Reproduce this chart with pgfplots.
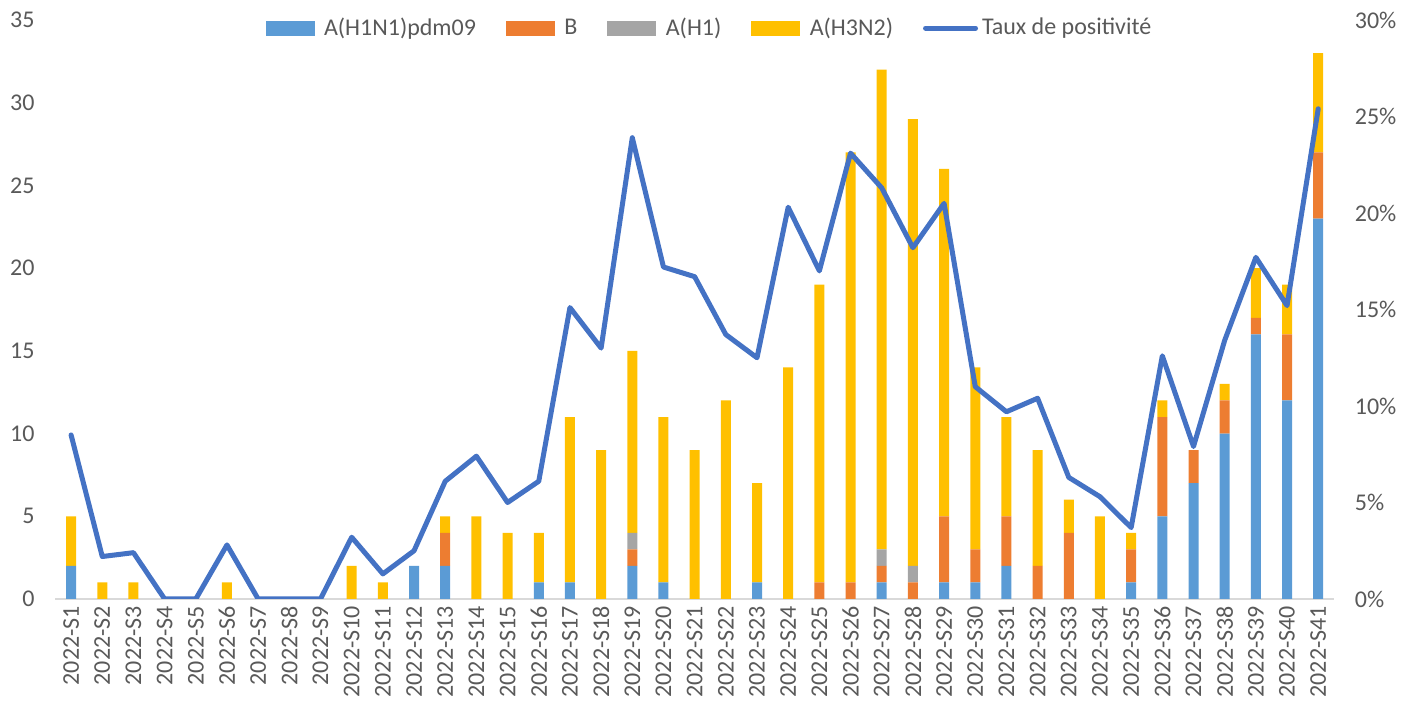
\documentclass[border=0pt]{standalone}
\usepackage{fontspec}
\setmainfont{Carlito}
\usepackage{pgfplots}
\usepackage{pgfplotstable}
\pgfplotsset{compat=1.18}

\definecolor{cH1N1}{HTML}{5B9BD5}
\definecolor{cB}{HTML}{ED7D31}
\definecolor{cH1}{HTML}{A5A5A5}
\definecolor{cH3N2}{HTML}{FFC000}
\definecolor{cLine}{HTML}{4472C4}
\definecolor{cTick}{HTML}{595959}
\definecolor{cBase}{HTML}{D9D9D9}

\newcommand{\tfont}{\fontsize{12}{14}\selectfont}

% semaine, A(H1N1)pdm09, B, A(H1), A(H3N2), taux de positivite (%)
\pgfplotstableread{
w  h1n1 b h1 h3n2 taux
1  2  0 0 3  8.5
2  0  0 0 1  2.2
3  0  0 0 1  2.4
4  0  0 0 0  0
5  0  0 0 0  0
6  0  0 0 1  2.8
7  0  0 0 0  0
8  0  0 0 0  0
9  0  0 0 0  0
10 0  0 0 2  3.2
11 0  0 0 1  1.3
12 2  0 0 0  2.5
13 2  2 0 1  6.1
14 0  0 0 5  7.4
15 0  0 0 4  5.0
16 1  0 0 3  6.1
17 1  0 0 10 15.1
18 0  0 0 9  13.0
19 2  1 1 11 23.9
20 1  0 0 10 17.2
21 0  0 0 9  16.7
22 0  0 0 12 13.7
23 1  0 0 6  12.5
24 0  0 0 14 20.3
25 0  1 0 18 17.0
26 0  1 0 26 23.1
27 1  1 1 29 21.3
28 0  1 1 27 18.2
29 1  4 0 21 20.5
30 1  2 0 11 11.0
31 2  3 0 6  9.7
32 0  2 0 7  10.4
33 0  4 0 2  6.3
34 0  0 0 5  5.3
35 1  2 0 1  3.7
36 5  6 0 1  12.6
37 7  2 0 0  7.9
38 10 2 0 1  13.4
39 16 1 0 3  17.7
40 12 4 0 3  15.2
41 23 4 0 6  25.4
}\fludata

\pgfplotsset{
  barleg/.style={legend image code/.code={\fill[#1] (0pt,-3.5pt) rectangle (24pt,3.5pt);
    \path[draw=none,fill=none] (0pt,0pt) -- (27pt,0pt);}},
  common/.style={scale only axis, width=639.15pt, height=289.5pt,
    xmin=0.5, xmax=41.5,
    major tick length=0pt, tick style={draw=none},
    tick label style={font=\tfont, text=cTick},
    /pgf/number format/assume math mode=true},
}

\begin{document}
\begin{tikzpicture}
\path[use as bounding box] (-27.75pt,-52.5pt) rectangle (679.25pt,299.5pt);
\begin{axis}[common,
  ymin=0, ymax=35, ytick={0,5,...,35},
  ybar stacked, bar width=5pt,
  xtick={1,...,41},
  xticklabels={2022-S1,2022-S2,2022-S3,2022-S4,2022-S5,2022-S6,2022-S7,2022-S8,2022-S9,2022-S10,
    2022-S11,2022-S12,2022-S13,2022-S14,2022-S15,2022-S16,2022-S17,2022-S18,2022-S19,2022-S20,
    2022-S21,2022-S22,2022-S23,2022-S24,2022-S25,2022-S26,2022-S27,2022-S28,2022-S29,2022-S30,
    2022-S31,2022-S32,2022-S33,2022-S34,2022-S35,2022-S36,2022-S37,2022-S38,2022-S39,2022-S40,2022-S41},
  axis x line*=bottom, axis y line*=left,
  x axis line style={-, draw=cBase, line width=1pt},
  y axis line style={draw=none},
  xticklabel style={rotate=90, anchor=east, yshift=0pt},
  yticklabel style={xshift=-7pt},
]
\addplot[fill=cH1N1, draw=none] table[x=w,y=h1n1]{\fludata};
\addplot[fill=cB, draw=none] table[x=w,y=b]{\fludata};
\addplot[fill=cH1, draw=none] table[x=w,y=h1]{\fludata};
\addplot[fill=cH3N2, draw=none] table[x=w,y=h3n2]{\fludata};
\end{axis}
\begin{axis}[common,
  ymin=0, ymax=30, ytick={0,5,...,30},
  axis x line=none, axis y line*=right,
  y axis line style={draw=none},
  yticklabel={\pgfmathprintnumber{\tick}\%},
  yticklabel style={xshift=7pt},
  legend style={draw=none, fill=none, at={(axis description cs:0.5124,0.986)},
    anchor=center, legend columns=-1, font=\tfont, text=cTick,
    /tikz/every even column/.append style={column sep=13pt}},
]
\addlegendimage{barleg=cH1N1}\addlegendentry{A(H1N1)pdm09}
\addlegendimage{barleg=cB}\addlegendentry{B}
\addlegendimage{barleg=cH1}\addlegendentry{A(H1)}
\addlegendimage{barleg=cH3N2}\addlegendentry{A(H3N2)}
\addplot[cLine, line width=2.5pt, line join=round, line cap=round,
  legend image code/.code={\draw[cLine, line width=2.5pt, line cap=round] (1pt,0pt) -- (26pt,0pt);
    \path[draw=none,fill=none] (0pt,0pt) -- (27pt,0pt);}]
  table[x=w,y=taux]{\fludata};
\addlegendentry{Taux de positivité}
\end{axis}
\end{tikzpicture}
\end{document}
